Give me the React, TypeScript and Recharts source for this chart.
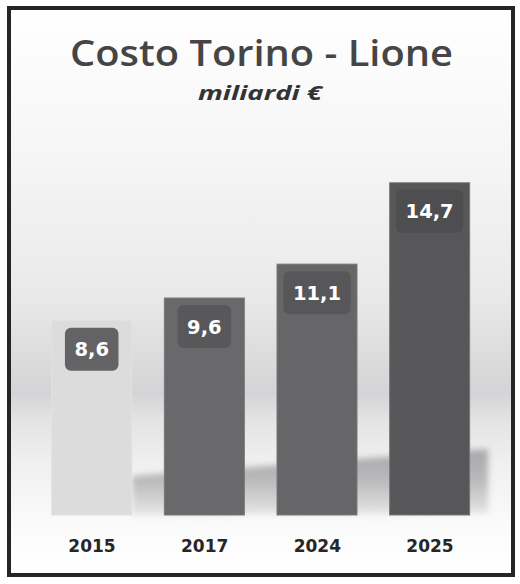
import React from 'react';
import { BarChart, Bar, XAxis, YAxis, LabelList } from 'recharts';

// Costo Torino - Lione, miliardi di euro
const YEARS = ['2015', '2017', '2024', '2025'];
const COSTS = [8.6, 9.6, 11.1, 14.7];
const BAR_COLORS = ['#dcdcdd', '#69696b', '#666668', '#57575a'];
const BADGE_COLORS = ['#636365', '#58585b', '#575759', '#4e4e51'];
const Y_DOMAIN = [0, 16];

const data = YEARS.map((year, i) => ({ year, cost: COSTS[i] }));

const fmt = (v: number) => v.toFixed(1).replace('.', ',');

// rough width of DejaVu Sans Bold text
const textWidth = (s: string, size: number) =>
  s.split('').reduce((w, c) => w + (c === ',' ? 0.38 : 0.696), 0) * size;

const ColumnBar = (props: any) => {
  const { x, y, width, height, index } = props;
  return (
    <rect
      x={x}
      y={y}
      width={width}
      height={height}
      fill={BAR_COLORS[index]}
      stroke={index === 0 ? '#e2e2e3' : '#78787a'}
      strokeWidth={1}
    />
  );
};

const Badge = (props: any) => {
  const { x, y, width, value, index } = props;
  const label = fmt(Number(value));
  const w = textWidth(label, 19.5) + 19;
  const cx = x + width / 2;
  return (
    <g>
      <rect x={cx - w / 2} y={y + 7} width={w} height={43} rx={6} fill={BADGE_COLORS[index]} />
      <text
        x={cx}
        y={y + 29}
        textAnchor="middle"
        dominantBaseline="central"
        fill="#ffffff"
        fontFamily="DejaVu Sans"
        fontWeight="bold"
        fontSize={19.5}
      >
        {label}
      </text>
    </g>
  );
};

const YearTick = (props: any) => {
  const { x, y, payload } = props;
  return (
    <text
      x={x}
      y={y + 29}
      textAnchor="middle"
      fill="#262626"
      fontFamily="DejaVu Sans"
      fontWeight="bold"
      fontSize={17}
    >
      {payload.value}
    </text>
  );
};

export default function App() {
  return (
    <div style={{ position: 'absolute', left: 0, top: 0, width: 520, height: 584 }}>
      <div
        style={{
          position: 'absolute',
          left: 7,
          top: 6,
          width: 508,
          height: 571,
          boxSizing: 'border-box',
          border: '4px solid #262626',
          background:
            'linear-gradient(to bottom, #ffffff 0%, #f6f6f6 25%, #e9e9e9 51%, #d4d4d6 68%, #e4e4e5 73%, #efefef 80%, #fbfbfb 92%, #ffffff 100%)',
        }}
      />
      {/* floor shadow behind the columns */}
      <svg width={520} height={584} style={{ position: 'absolute', left: 0, top: 0 }}>
        <defs>
          <linearGradient id="floor" gradientUnits="userSpaceOnUse" x1="0" y1="450" x2="0" y2="516">
            <stop offset="0" stopColor="#a8a8aa" />
            <stop offset="0.45" stopColor="#b9b9bb" />
            <stop offset="1" stopColor="#e8e8e8" />
          </linearGradient>
          <filter id="soft" x="-20%" y="-50%" width="140%" height="200%">
            <feGaussianBlur stdDeviation="3" />
          </filter>
        </defs>
        <polygon points="132,476 488,449 488,513 132,515" fill="url(#floor)" filter="url(#soft)" />
      </svg>
      <div style={{ position: 'absolute', left: 0, top: 0 }}>
        <BarChart
          width={520}
          height={584}
          data={data}
          margin={{ top: 153.4, right: 33.7, left: 35.7, bottom: 39 }}
        >
          <XAxis dataKey="year" axisLine={false} tickLine={false} height={30} tick={<YearTick />} />
          <YAxis hide domain={Y_DOMAIN} />
          <Bar dataKey="cost" barSize={80} shape={<ColumnBar />} isAnimationActive={false}>
            <LabelList dataKey="cost" content={<Badge />} />
          </Bar>
        </BarChart>
      </div>
      <svg width={520} height={130} style={{ position: 'absolute', left: 0, top: 0 }}>
        <text
          x={261.5}
          y={66}
          textAnchor="middle"
          fill="#454545"
          fontFamily="Open Sans"
          fontWeight={600}
          fontSize={36}
          textLength={383}
          lengthAdjust="spacingAndGlyphs"
        >
          Costo Torino - Lione
        </text>
        <text
          x={260}
          y={100}
          textAnchor="middle"
          fill="#333333"
          fontFamily="Open Sans"
          fontWeight="bold"
          fontStyle="italic"
          fontSize={20}
          textLength={124}
          lengthAdjust="spacingAndGlyphs"
        >
          miliardi €
        </text>
      </svg>
    </div>
  );
}
